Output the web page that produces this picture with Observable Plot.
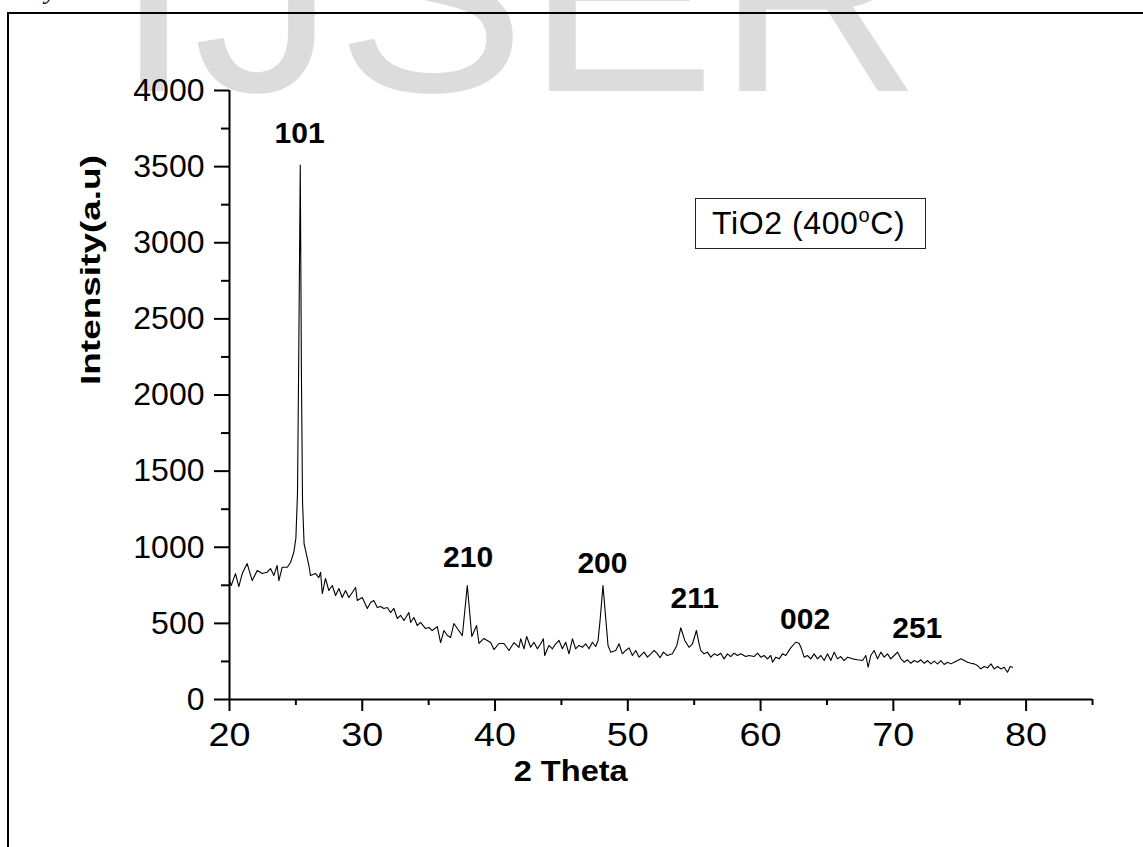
<!DOCTYPE html>
<html>
<head>
<meta charset="utf-8">
<script src="https://cdn.jsdelivr.net/npm/d3@7"></script>
<script src="https://cdn.jsdelivr.net/npm/@observablehq/plot@0.6"></script>
<style>
  html, body { margin: 0; padding: 0; background: #fff; overflow: hidden; }
  #wrap { position: relative; width: 1143px; height: 847px; overflow: hidden; }
  #wm, #chart { position: absolute; left: 0; top: 0; }
  #legend { position: absolute; left: 695px; top: 198px; width: 231px; height: 51px;
            border: 1px solid #222; box-sizing: border-box; background: transparent;
            font-family: "Liberation Sans", Arial, sans-serif; font-size: 32px; color: #000; }
  #legend span.t { position: absolute; left: 16px; top: 8px; line-height: 32px; white-space: nowrap; letter-spacing: 0.6px; }
  #legend sup { font-size: 20px; vertical-align: 0; position: relative; top: -12px; }
  #border { position: absolute; left: 7px; top: 12px; width: 1300px; height: 1000px;
            border: 2px solid #000; box-sizing: border-box; pointer-events: none; }
</style>
</head>
<body>
<div id="wrap">
  <svg id="wm" width="1143" height="847">
    <text x="114" y="91" font-family="Liberation Sans, Arial, sans-serif" font-size="285" fill="#dcdcdc">IJSER</text>
    <text x="45" y="-1" font-family="Liberation Serif, serif" font-style="italic" font-size="26" fill="#000">y</text>
  </svg>
  <div id="chart"></div>
  <div id="legend"><span class="t">TiO2 (400<sup>o</sup>C)</span></div>
  <div id="border"></div>
</div>
<script>
// ---- data ----
const twoTheta = [
  20.00, 20.13, 20.45, 20.70, 20.96, 21.33, 21.71, 22.09, 22.46, 22.84,
  23.09, 23.34, 23.59, 23.72, 23.97, 24.35, 24.60, 24.85, 25.00, 25.12,
  25.22, 25.33, 25.42, 25.50, 25.62, 25.73, 25.98, 26.10, 26.48, 26.73,
  26.86, 26.99, 27.23, 27.48, 27.74, 27.99, 28.24, 28.49, 28.74, 28.99,
  29.25, 29.50, 29.62, 30.00, 30.38, 30.63, 30.87, 31.13, 31.38, 31.63,
  31.88, 32.13, 32.38, 32.64, 32.89, 33.14, 33.51, 33.64, 33.89, 34.14,
  34.39, 34.77, 35.02, 35.27, 35.65, 35.90, 36.15, 36.41, 36.65, 36.90,
  37.16, 37.54, 37.91, 38.25, 38.61, 38.79, 39.16, 39.67, 39.92, 40.29,
  40.67, 41.05, 41.43, 41.80, 41.93, 42.18, 42.38, 42.68, 42.93, 43.19,
  43.44, 43.64, 43.74, 44.06, 44.32, 44.57, 44.82, 45.07, 45.32, 45.57,
  45.83, 46.07, 46.32, 46.58, 46.83, 47.08, 47.33, 47.58, 47.76, 47.91,
  48.13, 48.33, 48.51, 48.71, 49.09, 49.34, 49.59, 49.84, 50.09, 50.35,
  50.60, 50.85, 51.22, 51.48, 51.73, 51.98, 52.23, 52.43, 52.68, 52.98,
  53.36, 53.69, 53.99, 54.29, 54.61, 54.87, 55.17, 55.37, 55.49, 55.74,
  56.00, 56.25, 56.50, 56.75, 57.00, 57.25, 57.51, 57.75, 58.00, 58.26,
  58.51, 58.88, 59.13, 59.51, 59.77, 60.02, 60.26, 60.52, 60.77, 60.90,
  61.15, 61.40, 61.65, 61.90, 62.27, 62.65, 62.90, 63.08, 63.28, 63.53,
  63.78, 64.03, 64.29, 64.54, 64.79, 65.04, 65.29, 65.54, 65.79, 66.04,
  66.29, 66.55, 66.93, 67.30, 67.68, 67.93, 68.10, 68.30, 68.55, 68.81,
  69.06, 69.31, 69.56, 69.81, 70.06, 70.32, 70.57, 70.82, 71.07, 71.32,
  71.57, 71.83, 72.07, 72.33, 72.58, 72.83, 73.08, 73.33, 73.58, 73.83,
  74.08, 74.33, 74.58, 74.84, 75.09, 75.34, 75.59, 75.84, 76.09, 76.34,
  76.59, 76.84, 77.10, 77.35, 77.60, 77.85, 78.10, 78.35, 78.60, 78.80,
  78.98
];
const intensity = [
  781, 749, 827, 742, 827, 893, 781, 847, 827, 836,
  860, 814, 880, 781, 869, 869, 900, 970, 1060, 1350,
  2300, 3510, 2100, 1300, 1020, 979, 880, 814, 827, 801,
  836, 696, 795, 716, 749, 683, 729, 670, 716, 670,
  703, 736, 650, 670, 598, 637, 650, 604, 611, 598,
  604, 571, 598, 532, 552, 519, 571, 506, 539, 486,
  506, 466, 473, 453, 479, 374, 453, 420, 407, 499,
  466, 420, 749, 414, 486, 368, 401, 374, 328, 368,
  368, 322, 374, 342, 399, 333, 414, 343, 376, 333,
  366, 399, 289, 355, 333, 366, 388, 333, 376, 300,
  399, 333, 355, 343, 366, 333, 376, 348, 388, 519,
  749, 541, 355, 311, 322, 366, 300, 322, 339, 289,
  322, 278, 311, 278, 300, 322, 300, 274, 311, 289,
  300, 355, 471, 388, 343, 366, 453, 366, 322, 300,
  311, 278, 300, 289, 304, 267, 300, 282, 304, 289,
  300, 282, 289, 282, 304, 278, 289, 267, 289, 245,
  278, 267, 300, 289, 339, 376, 370, 333, 278, 289,
  267, 300, 267, 289, 256, 300, 256, 311, 267, 282,
  256, 278, 267, 261, 256, 289, 212, 289, 322, 267,
  311, 278, 300, 267, 289, 311, 267, 245, 261, 238,
  256, 245, 261, 238, 256, 234, 252, 234, 256, 230,
  245, 234, 245, 256, 267, 256, 245, 238, 234, 223,
  201, 217, 208, 234, 201, 217, 201, 212, 179, 217,
  212
];
const peakNames = ["101", "210", "200", "211", "002", "251"];
const peakLabelX = [25.28, 37.97, 48.09, 55.04, 63.35, 71.8];
const peakLabelY = [3654, 869, 834, 604, 466, 407];
const xMajorTicks = [20, 30, 40, 50, 60, 70, 80];
const xMinorTicks = [25, 35, 45, 55, 65, 75, 85];
const yMajorTicks = [0, 500, 1000, 1500, 2000, 2500, 3000, 3500, 4000];
const yMinorTicks = [250, 750, 1250, 1750, 2250, 2750, 3250, 3750];
const xTitle = "2 Theta";
const yTitle = "Intensity(a.u)";

const data = twoTheta.map((t, i) => ({t, v: intensity[i]}));
const peaks = peakNames.map((n, i) => ({n, x: peakLabelX[i], y: peakLabelY[i]}));

const chart = Plot.plot({
  width: 1143,
  height: 847,
  marginLeft: 229,
  marginRight: 51,
  marginTop: 90,
  marginBottom: 148,
  x: {domain: [20, 85]},
  y: {domain: [0, 4000]},
  style: {background: "transparent", fontFamily: "'Liberation Sans', Arial, sans-serif", color: "black", overflow: "visible"},
  marks: [
    Plot.axisX({ticks: xMajorTicks, tickSize: 12, tickPadding: 11, fontSize: 33, strokeWidth: 2, label: null, tickFormat: d => String(d)}),
    Plot.axisX({ticks: xMinorTicks, tickSize: 6, strokeWidth: 2, label: null, tickFormat: () => ""}),
    Plot.axisY({ticks: yMajorTicks, tickSize: 15, tickPadding: 10, fontSize: 32, strokeWidth: 2, label: null, tickFormat: d => String(d)}),
    Plot.axisY({ticks: yMinorTicks, tickSize: 8, strokeWidth: 2, label: null, tickFormat: () => ""}),
    Plot.ruleY([0], {x1: 20, x2: 85, stroke: "black", strokeWidth: 2}),
    Plot.ruleX([20], {y1: 0, y2: 4000, stroke: "black", strokeWidth: 2}),
    Plot.line(data, {x: "t", y: "v", stroke: "black", strokeWidth: 1.1}),
    Plot.text(peaks, {x: "x", y: "y", text: "n", lineAnchor: "bottom", fontWeight: "bold", fontSize: 30, fill: "black"}),
    Plot.text([yTitle], {frameAnchor: "left", dx: -138, dy: -10, rotate: -90, fontWeight: "bold", fontSize: 28, fill: "black"}),
    Plot.text([{x: 45.7}], {x: "x", frameAnchor: "bottom", dy: 81, text: () => xTitle, fontWeight: "bold", fontSize: 30, fill: "black"})
  ]
});
document.getElementById("chart").appendChild(chart);

// stretch a few texts to match the reference's wide glyphs
d3.select(chart).selectAll("text").each(function() {
  const s = this.textContent;
  if (/^\d0$/.test(s)) d3.select(this).attr("textLength", 42).attr("lengthAdjust", "spacingAndGlyphs");
  if (s === yTitle) d3.select(this).attr("textLength", 230).attr("lengthAdjust", "spacingAndGlyphs");
  if (s === xTitle) d3.select(this).attr("textLength", 114).attr("lengthAdjust", "spacingAndGlyphs");
});
</script>
</body>
</html>
